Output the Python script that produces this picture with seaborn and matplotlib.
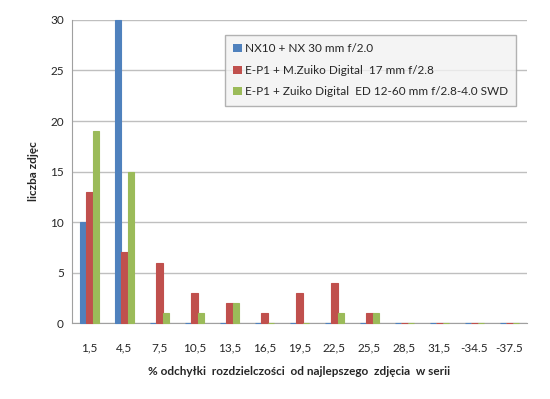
import pandas as pd
import matplotlib
matplotlib.use('Agg')
import matplotlib.pyplot as plt
import seaborn as sns

# dane
kategorie = ['1,5', '4,5', '7,5', '10,5', '13,5', '16,5', '19,5', '22,5',
             '25,5', '28,5', '31,5', '-34.5', '-37.5']
nx10 = [10, 30, 0, 0, 0, 0, 0, 0, 0, 0, 0, 0, 0]
ep1_17 = [13, 7, 6, 3, 2, 1, 3, 4, 1, 0, 0, 0, 0]
ep1_1260 = [19, 15, 1, 1, 2, 0, 0, 1, 1, 0, 0, 0, 0]
serie = ['NX10 + NX 30 mm f/2.0',
         'E-P1 + M.Zuiko Digital  17 mm f/2.8',
         'E-P1 + Zuiko Digital  ED 12-60 mm f/2.8-4.0 SWD']
kolory = ['#4F81BD', '#C0504D', '#9BBB59']

df = pd.concat([
    pd.DataFrame({'kat': kategorie, 'ile': v, 'seria': s})
    for s, v in zip(serie, [nx10, ep1_17, ep1_1260])
])

sns.set_style('white')
plt.rcParams['font.family'] = ['Lato', 'DejaVu Sans']

fig = plt.figure(figsize=(5.5, 3.99), dpi=100)
ax = fig.add_axes([0.131, 0.19, 0.827, 0.76])

sns.barplot(data=df, x='kat', y='ile', hue='seria', palette=kolory,
            width=0.55, ax=ax, saturation=1, errorbar=None,
            edgecolor=None, linewidth=0)
# słupki zerowe widoczne jako cienkie kreski, jak w Excelu
for p, c in zip(ax.containers, kolory):
    for b in p:
        b.set_edgecolor(c)
        b.set_linewidth(0.8)
        b.set_clip_on(False)
        b.set_zorder(3)

ax.set_ylim(0, 30)
ax.set_yticks(range(0, 31, 5))
ax.yaxis.grid(True, color='#BFBFBF', linewidth=1)
ax.set_axisbelow(True)
for s in ['top', 'right']:
    ax.spines[s].set_visible(False)
ax.spines['left'].set_color('#A0A0A0')
ax.spines['bottom'].set_color('#A0A0A0')
ax.tick_params(axis='y', length=4, color='#A0A0A0', labelsize=8.5, pad=2)
ax.tick_params(axis='x', length=0, labelsize=8.5, pad=14)

ax.set_xlabel('% odchyłki  rozdzielczości  od najlepszego  zdjęcia  w serii',
              fontsize=8.5, fontweight='bold', labelpad=9)
ax.set_ylabel('liczba zdjęc', fontsize=8.5, fontweight='bold', labelpad=8)

leg = ax.legend(loc='upper right', bbox_to_anchor=(0.99, 0.97), fontsize=8.5,
                frameon=True, fancybox=False, handlelength=0.7,
                handleheight=0.7, handletextpad=0.3, labelspacing=0.9,
                borderpad=0.7)
leg.get_frame().set_facecolor('#F2F2F2')
leg.get_frame().set_edgecolor('#A0A0A0')

fig.savefig('out.png', dpi=100)
